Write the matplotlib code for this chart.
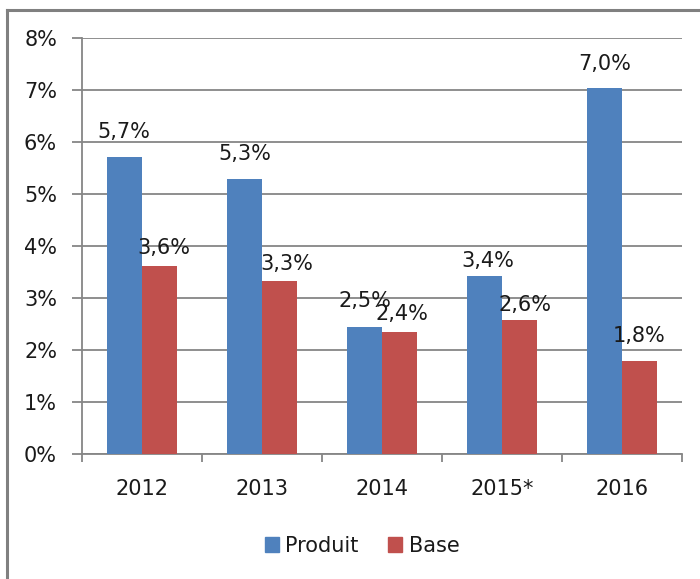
import matplotlib
matplotlib.use("Agg")
import matplotlib.pyplot as plt
import numpy as np
from matplotlib.lines import Line2D
from matplotlib.ticker import FixedLocator

categories = ["2012", "2013", "2014", "2015*", "2016"]
produit = [5.72, 5.28, 2.45, 3.43, 7.03]
base = [3.62, 3.33, 2.34, 2.57, 1.79]
produit_labels = ["5,7%", "5,3%", "2,5%", "3,4%", "7,0%"]
base_labels = ["3,6%", "3,3%", "2,4%", "2,6%", "1,8%"]
yticks = [0, 1, 2, 3, 4, 5, 6, 7, 8]
ytick_labels = ["0%", "1%", "2%", "3%", "4%", "5%", "6%", "7%", "8%"]

plt.rcParams['font.family'] = ['DejaVu Sans']
W, H = 700, 579
fig = plt.figure(figsize=(W/100, H/100), dpi=100)
ax = fig.add_axes([82/W, 1-454/H, 600/W, 416/H])

blue = "#4F81BD"
red = "#C0504D"
grid = "#868686"
txt = "#1a1a1a"
bw = 0.29
x = np.arange(len(categories))
ax.bar(x - bw/2, produit, bw, color=blue, label="Produit", zorder=3)
ax.bar(x + bw/2, base, bw, color=red, label="Base", zorder=3)

fs = 15
px = 0.72  # points per pixel
# label placement (pixel offsets of baseline above bar top, and horizontal shift)
p_dy = [19, 19, 20, 9, 18]
p_dx = [-1, 0, 0, 3, 0]
b_dy = [12, 11, 12, 9, 19]
b_dx = [4, 7, 3, 6, 0]
for xi, v, lab, dx, dy in zip(x, produit, produit_labels, p_dx, p_dy):
    ax.annotate(lab, (xi - bw/2, v), xytext=(dx*px, dy*px), textcoords="offset points",
                ha="center", va="baseline", fontsize=fs, color=txt, zorder=4)
for xi, v, lab, dx, dy in zip(x, base, base_labels, b_dx, b_dy):
    ax.annotate(lab, (xi + bw/2, v), xytext=(dx*px, dy*px), textcoords="offset points",
                ha="center", va="baseline", fontsize=fs, color=txt, zorder=4)

ax.set_xlim(-0.5, len(categories) - 0.5)
ax.set_ylim(0, 8)
ax.set_yticks(yticks)
ax.set_yticklabels(ytick_labels, fontsize=fs, color=txt)
ax.yaxis.grid(True, color=grid, linewidth=1.3, zorder=0)
ax.tick_params(axis="y", length=7, width=1.3, color=grid, pad=11)

ax.set_xticks(x)
ax.set_xticklabels(categories, fontsize=fs, color=txt)
ax.tick_params(axis="x", which="major", length=0, pad=18)
ax.xaxis.set_minor_locator(FixedLocator(np.arange(-0.5, len(categories), 1.0)))
ax.tick_params(axis="x", which="minor", length=6, width=1.3, color=grid)

for s in ["top", "right"]:
    ax.spines[s].set_visible(False)
for s in ["left", "bottom"]:
    ax.spines[s].set_color(grid)
    ax.spines[s].set_linewidth(1.3)

leg = fig.legend(handles=[plt.Rectangle((0, 0), 1, 1, color=blue),
                          plt.Rectangle((0, 0), 1, 1, color=red)],
                 labels=["Produit", "Base"], loc="center",
                 bbox_to_anchor=(362/W, 1-546/H), ncol=2, frameon=False,
                 fontsize=fs, handlelength=0.7, handleheight=0.7,
                 handletextpad=0.3, columnspacing=1.4)
for t in leg.get_texts():
    t.set_color(txt)

# chart border (left and top visible)
fig.add_artist(Line2D([7/W, 7/W], [0, 1-10/H], color="#808080", linewidth=2.2,
                      transform=fig.transFigure))
fig.add_artist(Line2D([7/W, 1], [1-10/H, 1-10/H], color="#808080", linewidth=2.2,
                      transform=fig.transFigure))

fig.savefig("out.png", dpi=100)
